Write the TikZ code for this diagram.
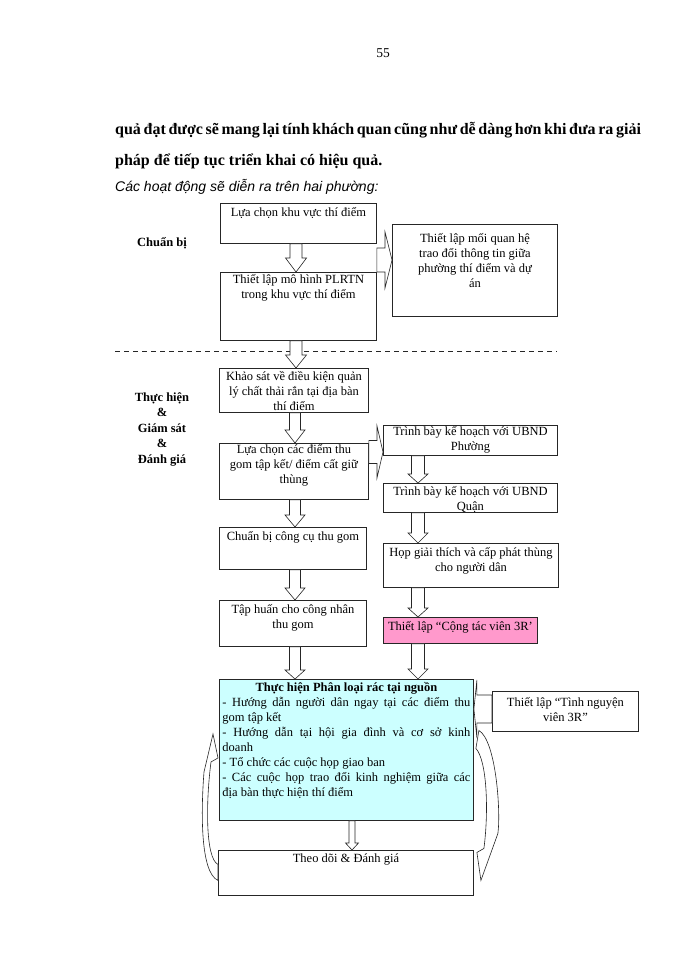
\documentclass[tikz,border=0pt]{standalone}
\usepackage{fontspec}
\setmainfont{Liberation Serif}
\newfontfamily\SansFont{Liberation Sans}
\usepackage{tikz}
\usetikzlibrary{calc}
\usetikzlibrary{positioning}
\definecolor{boxcyan}{RGB}{204,255,255}
\definecolor{boxpink}{RGB}{255,153,204}
\newcommand{\BoxFont}{\fontsize{12.5}{15}\selectfont}
% box text: width, height, first baseline, text
\newcommand{\BoxTxt}[4]{\parbox[c][#2pt][t]{#1pt}{\BoxFont\centering\vbox{}\vskip\dimexpr#3pt-15pt\relax #4}}
% hollow block arrows: x (or y), from, to, shaft half width, head half width, head length
\newcommand{\BlockDown}[6]{\draw[BlockArr] let \p1=(#1,0), \p2=(#2.south), \p3=(#3.north) in
 (\x1-#4pt,\y2) -- (\x1+#4pt,\y2) -- (\x1+#4pt,\y3+#6pt) -- (\x1+#5pt,\y3+#6pt) -- (\x1,\y3)
 -- (\x1-#5pt,\y3+#6pt) -- (\x1-#4pt,\y3+#6pt) -- cycle;}
\newcommand{\BlockRight}[6]{\draw[BlockArr] let \p1=(0,#1), \p2=(#2.east), \p3=(#3.west) in
 (\x2,\y1+#4pt) -- (\x3-#6pt,\y1+#4pt) -- (\x3-#6pt,\y1+#5pt) -- (\x3,\y1)
 -- (\x3-#6pt,\y1-#5pt) -- (\x3-#6pt,\y1-#4pt) -- (\x2,\y1-#4pt) -- cycle;}
\newcommand{\BlockLeft}[6]{\draw[BlockArr] let \p1=(0,#1), \p2=(#2.west), \p3=(#3.east) in
 (\x2,\y1+#4pt) -- (\x3+#6pt,\y1+#4pt) -- (\x3+#6pt,\y1+#5pt) -- (\x3,\y1)
 -- (\x3+#6pt,\y1-#5pt) -- (\x3+#6pt,\y1-#4pt) -- (\x2,\y1-#4pt) -- cycle;}

\begin{document}
\begin{tikzpicture}[
x=1pt,y=-1pt,
MyBox/.style={draw=black!85,line width=0.9pt,inner xsep=3pt,inner ysep=0pt,anchor=north west},
BlockArr/.style={draw=black!85,fill=white,line width=0.6pt,line join=miter},
Label/.style={font=\fontsize{12.5}{15.5}\selectfont\bfseries,align=center,inner sep=0pt},
PageText/.style={inner sep=0pt,font=\fontsize{16}{18}\selectfont\bfseries}
]
\useasboundingbox[fill=white] (0,0) rectangle (700,960);

% text above the chart
\node[PageText,anchor=base,font=\fontsize{13.5}{15}\selectfont] (pagenum) at (383,58) {55};
\node[PageText,anchor=base west] (par1) at (115,135)
 {\makebox[522pt][s]{quả đạt được sẽ mang lại tính khách quan cũng như dễ dàng hơn khi đưa ra giải}};
\node[PageText,anchor=base west] (par2) at (115,165)
 {pháp để tiếp tục triển khai có hiệu quả.};
\node[PageText,anchor=base west,font=\SansFont\itshape\fontsize{14}{16}\selectfont] (intro) at (115,192)
 {Các hoạt động sẽ diễn ra trên hai phường:};

% phase labels
\node[Label,anchor=base] (prep) at (162,246) {Chuẩn bị};
\node[Label] (exec) at (162,429) {Thực hiện\\\&\\Giám sát\\\&\\Đánh giá};

%\draw separator
\coordinate (sepL) at (115,351);
\coordinate (sepR) at (557,351);
\draw[dash pattern=on 5pt off 4pt,line width=0.7pt,black!85] (sepL) -- (sepR);

% boxes
\node[MyBox] (b1) at (220,203) {\BoxTxt{150}{40}{13}{Lựa chọn khu vực thí điểm}};
\node[MyBox] (b2) at (220,272) {\BoxTxt{150}{68}{11}{Thiết lập mô hình PLRTN\\trong khu vực thí điểm}};
\node[MyBox] (b3) at (392,224) {\BoxTxt{159}{92}{18}{Thiết lập mối quan hệ\\trao đổi thông tin giữa\\phường thí điểm và dự\\án}};
\node[MyBox] (b4) at (219,368) {\BoxTxt{143}{44}{12}{Khảo sát về điều kiện quản\\lý chất thải rắn tại địa bàn\\thí điểm}};
\node[MyBox] (b5) at (219,443) {\BoxTxt{143}{56}{10}{Lựa chọn các điểm thu\\gom tập kết/ điểm cất giữ\\thùng}};
\node[MyBox] (b6) at (383,425) {\BoxTxt{168}{30}{10}{Trình bày kế hoạch với UBND\\Phường}};
\node[MyBox] (b7) at (383,483) {\BoxTxt{168}{29}{12}{Trình bày kế hoạch với UBND\\Quận}};
\node[MyBox] (b8) at (219,527) {\BoxTxt{141}{42}{13}{Chuẩn bị công cụ thu gom}};
\node[MyBox] (b9) at (383,543) {\BoxTxt{169}{44}{13}{Họp giải thích và cấp phát thùng\\cho người dân}};
\node[MyBox] (b10) at (219,600) {\BoxTxt{141}{46}{13}{Tập huấn cho công nhân\\thu gom}};
\node[MyBox,fill=boxpink] (b11) at (383,617) {\BoxTxt{148}{26}{13}{Thiết lập “Cộng tác viên 3R’}};
\node[MyBox,fill=boxcyan] (b12) at (219,679) {\BoxTxt{248}{141}{12}{\textbf{Thực hiện Phân loại rác tại nguồn}\par\raggedright
 \makebox[\linewidth][s]{- Hướng dẫn người dân ngay tại các điểm thu}\\
 gom tập kết\\
 \makebox[\linewidth][s]{- Hướng dẫn tại hội gia đình và cơ sở kinh}\\
 doanh\\
 - Tổ chức các cuộc họp giao ban\\
 \makebox[\linewidth][s]{- Các cuộc họp trao đổi kinh nghiệm giữa các}\\
 địa bàn thực hiện thí điểm}};
\node[MyBox] (b13) at (492,691) {\BoxTxt{140}{40}{15}{Thiết lập “Tình nguyện\\viên 3R”}};
\node[MyBox] (b14) at (218,850) {\BoxTxt{249}{45}{12}{Theo dõi \& Đánh giá}};

% block arrows
\BlockDown{296}{b1}{b2}{6}{10.5}{14}
\BlockDown{296}{b2}{b4}{6}{10.5}{13}
\BlockDown{295}{b4}{b5}{5.5}{10}{13}
\BlockDown{295}{b5}{b8}{5.5}{10}{12}
\BlockDown{295}{b8}{b10}{5.5}{10}{12}
\BlockDown{295}{b10}{b12}{5.5}{10}{9}
\BlockDown{418}{b6}{b7}{6.5}{10}{9}
\BlockDown{418}{b7}{b9}{6.5}{10}{10}
\BlockDown{418}{b9}{b11}{6.5}{10}{9}
\BlockDown{418}{b11}{b12}{6.5}{10}{10}
\BlockDown{352}{b12}{b14}{3}{6.5}{7}
\BlockRight{260}{b1}{b3}{12}{28}{7}
\BlockRight{452}{b5}{b6}{11.5}{26}{6}
\BlockLeft{709}{b13}{b12}{14}{29}{3}

% feedback loops
\draw[BlockArr] ($(b14.west)+(0,7.5)$) .. controls +(-18,-8) and ($(b12.west)+(-18,60)$) .. ($(b12.west)+(-15,22)$)
 -- ($(b12.west)+(-6,-16)$) -- ($(b12.west)+(-1,8)$) -- ($(b12.west)+(-8,12)$)
 .. controls ($(b12.west)+(-13,50)$) and ($(b14.west)+(-13,-15)$) .. ($(b14.west)+(0,-8.5)$) -- cycle;
\draw[BlockArr] ($(b12.east)+(5,-19.5)$) .. controls ($(b12.east)+(22,-9.5)$) and ($(b12.east)+(27,60.5)$) .. ($(b12.east)+(24,83.5)$)
 -- ($(b12.east)+(7,130.5)$) -- ($(b12.east)+(3,102.5)$) -- ($(b12.east)+(10,98.5)$)
 .. controls ($(b12.east)+(15,60.5)$) and ($(b12.east)+(13,10.5)$) .. ($(b12.east)+(2,-1.5)$) -- cycle;

\end{tikzpicture}
\end{document}
